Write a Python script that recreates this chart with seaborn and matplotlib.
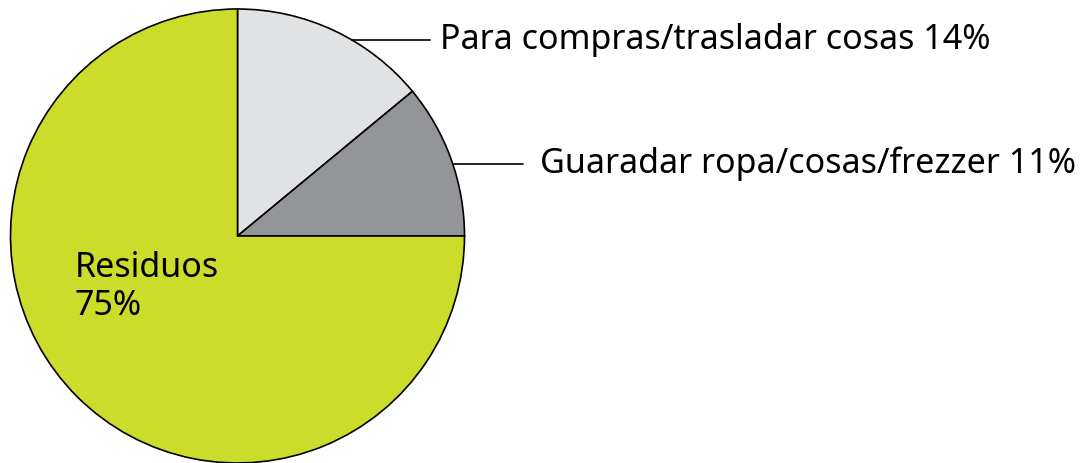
import numpy as np
import matplotlib
matplotlib.use("Agg")
import matplotlib.pyplot as plt
import seaborn as sns

labels = ["Para compras/trasladar cosas", "Guaradar ropa/cosas/frezzer", "Residuos"]
values = [14, 11, 75]
colors = ["#e1e2e4", "#939598", "#cbdc2b"]

sns.set_theme(style="white")
plt.rcParams['font.family'] = ['Noto Sans', 'DejaVu Sans']

fig = plt.figure(figsize=(10.85, 4.63), dpi=100)
ax = fig.add_axes([0, 0, 1, 1])

cx, cy, r = 237.5, 463 - 236, 227
ax.pie(values, colors=colors, startangle=90, counterclock=False,
       center=(cx, cy), radius=r, frame=True,
       wedgeprops=dict(edgecolor='black', linewidth=1.2))
ax.set_xlim(0, 1085)
ax.set_ylim(0, 463)
ax.set_aspect('equal')
ax.axis('off')

# leader lines + labels for the two small slices
fs = 24.5
for lab, val, y, x_end, x_txt in [(labels[0], values[0], 463 - 40, 430, 440),
                                   (labels[1], values[1], 463 - 164, 523, 540)]:
    x0 = cx + np.sqrt(r**2 - (y - cy)**2)
    ax.plot([x0, x_end], [y, y], color='black', lw=1.2)
    ax.text(x_txt, y, f"{lab} {val}%", fontsize=fs, va='center', ha='left', color='black')

ax.text(75, 463 - 287, f"{labels[2]}\n{values[2]}%", fontsize=fs, va='center', ha='left',
        color='black', linespacing=1.12)

fig.savefig("out.png", dpi=100)
